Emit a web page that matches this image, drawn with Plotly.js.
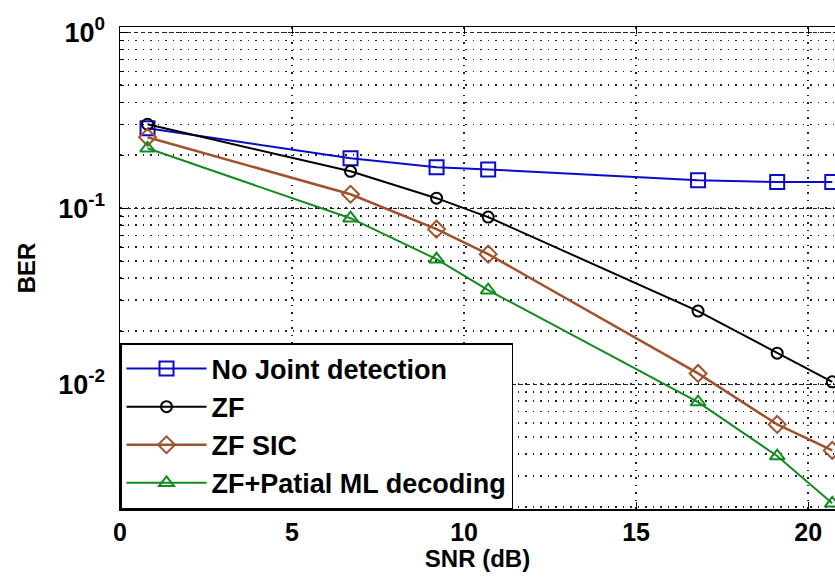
<!DOCTYPE html>
<html>
<head>
<meta charset="utf-8">
<script src="https://cdn.plot.ly/plotly-3.0.1.min.js"></script>
<style>html,body{margin:0;padding:0;background:#fff;}#chart{width:835px;height:579px;}</style>
</head>
<body>
<div id="chart"></div>
<script>
// SNR values (dB)
const snr = [0.8, 6.7, 9.2, 10.7, 16.8, 19.1, 20.7];
// BER series
const berNoJoint = [0.285, 0.192, 0.171, 0.166, 0.144, 0.141, 0.141];
const berZF      = [0.300, 0.162, 0.114, 0.089, 0.026, 0.015, 0.0103];
const berZFSIC   = [0.253, 0.120, 0.076, 0.0548, 0.0115, 0.0059, 0.0042];
const berZFML    = [0.219, 0.0877, 0.0513, 0.0342, 0.0079, 0.0039, 0.0021];
const seriesNames = ['No Joint detection', 'ZF', 'ZF SIC', 'ZF+Patial ML decoding'];
const xTickVals = [0, 5, 10, 15, 20];
const yTickVals = [0.01, 0.1, 1];
const yTickText = ['10<sup>-2</sup>', '10<sup>-1</sup>', '10<sup>0</sup>'];

const colors = ['#0b0bc8', '#000000', '#a0522d', '#138a22'];
const symbols = ['square-open', 'circle-open', 'diamond-open', 'triangle-up-open'];
const sizes = [14, 11, 13, 13];
const series = [berNoJoint, berZF, berZFSIC, berZFML];

const traces = series.map((ys, i) => ({
  x: snr, y: ys, name: seriesNames[i], type: 'scatter', mode: 'lines+markers',
  line: {color: colors[i], width: i === 2 ? 2.5 : 2},
  marker: {symbol: symbols[i], size: sizes[i], color: colors[i], line: {color: colors[i], width: 2}}
}));

const fontFam = '"Liberation Sans", Arial, sans-serif';
const layout = {
  width: 835, height: 579,
  margin: {l: 120, r: 0, t: 27, b: 70},
  paper_bgcolor: '#fff', plot_bgcolor: '#fff',
  showlegend: true,
  legend: {
    x: 0, y: 0, xanchor: 'left', yanchor: 'bottom',
    bgcolor: '#fff', bordercolor: '#000', borderwidth: 1.5,
    font: {family: fontFam, size: 27, color: '#000', weight: 'bold'},
    itemwidth: 80, traceorder: 'normal'
  },
  xaxis: {
    range: [0, 20.78], tickvals: xTickVals, ticktext: xTickVals.map(String),
    showline: true, linecolor: '#000', linewidth: 1.5, mirror: 'ticks',
    ticks: 'inside', ticklen: 7, tickcolor: '#000',
    showgrid: true, gridcolor: '#222', griddash: '1.5px,6px', gridwidth: 1.5,
    zeroline: false,
    tickfont: {family: fontFam, size: 25, color: '#000', weight: 'bold'},
    title: {text: 'SNR (dB)', font: {family: fontFam, size: 24, color: '#000', weight: 'bold'}, standoff: 4}
  },
  yaxis: {
    type: 'log', range: [-2.71, 0.03],
    tickvals: yTickVals, ticktext: yTickText,
    showline: true, linecolor: '#000', linewidth: 1.5, mirror: false,
    ticks: 'inside', ticklen: 8, tickcolor: '#000', ticklabelstandoff: 8,
    showgrid: true, gridcolor: '#222', griddash: '4px,3px', gridwidth: 1,
    minor: {dtick: 'D1', showgrid: true, gridcolor: '#222', griddash: '1.5px,6px', gridwidth: 1.5, ticks: 'inside', ticklen: 4, tickcolor: '#000'},
    zeroline: false,
    tickfont: {family: fontFam, size: 27, color: '#000', weight: 'bold'},
    title: {text: 'BER', font: {family: fontFam, size: 24, color: '#000', weight: 'bold'}, standoff: 16}
  }
};

Plotly.newPlot('chart', traces, layout, {displayModeBar: false, staticPlot: true});
</script>
</body>
</html>
